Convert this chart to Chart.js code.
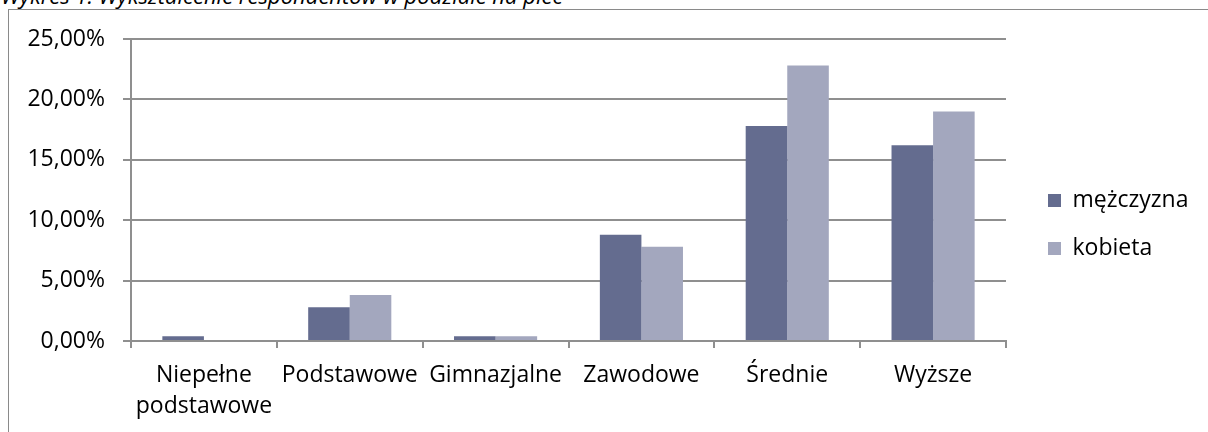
<!DOCTYPE html>
<html><head><meta charset="utf-8">
<script src="https://cdn.jsdelivr.net/npm/chart.js@4.4.1/dist/chart.umd.min.js"></script>
<style>
html,body{margin:0;padding:0;background:#fff;overflow:hidden;width:1208px;height:432px;position:relative;}
#frame{position:absolute;left:8px;top:9px;width:1400px;height:600px;border:1px solid #8a8a8a;box-sizing:border-box;}
#title{position:absolute;left:1px;top:-16px;font:italic 22px 'Open Sans';line-height:22px;white-space:nowrap;color:#000;}
canvas{position:absolute;left:0;top:0;}
</style></head><body>
<div id="title">Wykres 1. Wykształcenie respondentów w podziale na płeć</div>
<div id="frame"></div>
<canvas id="c" width="1208" height="432"></canvas>
<script>
const categories = [['Niepełne', 'podstawowe'], 'Podstawowe', 'Gimnazjalne', 'Zawodowe', 'Średnie', 'Wyższe'];
const seriesNames = ['mężczyzna', 'kobieta'];
const menValues = [0.4, 2.8, 0.4, 8.8, 17.8, 16.2];
const womenValues = [0, 3.8, 0.4, 7.8, 22.8, 19.0];
const yTickLabels = ['0,00%', '5,00%', '10,00%', '15,00%', '20,00%', '25,00%'];

const FONT = 'Open Sans';
const FS = 23;
const GRID = '#8f8f8f';

const legendShift = {
  id: 'legendShift',
  afterInit(chart) {
    const lg = chart.legend;
    const orig = lg.fit.bind(lg);
    lg.fit = function () { orig(); this.width = 202; };
  },
  afterLayout(chart) {
    const lg = chart.legend;
    lg.left += 17; lg.right += 17;
    lg.top -= 11; lg.bottom -= 11;
  }
};

Chart.defaults.font.family = FONT;
Chart.defaults.font.size = FS;
Chart.defaults.color = '#000';

new Chart(document.getElementById('c'), {
  type: 'bar',
  data: {
    labels: categories,
    datasets: [
      { label: seriesNames[0], data: menValues, backgroundColor: '#646c8f', borderWidth: 0 },
      { label: seriesNames[1], data: womenValues, backgroundColor: '#a3a7be', borderWidth: 0 }
    ]
  },
  options: {
    responsive: false,
    animation: false,
    devicePixelRatio: 1,
    layout: { padding: { left: 0, top: 39, right: 0, bottom: 0 } },
    datasets: { bar: { categoryPercentage: 0.57, barPercentage: 1.0 } },
    plugins: {
      legend: {
        position: 'right',
        labels: { boxWidth: 13, boxHeight: 13, padding: 25, color: '#000', font: { size: FS } }
      },
      tooltip: { enabled: false }
    },
    scales: {
      x: {
        grid: { display: true, drawOnChartArea: false, drawTicks: true, tickLength: 7, offset: true, color: GRID, lineWidth: 2 },
        border: { display: true, color: GRID, width: 2 },
        ticks: { color: '#000', padding: 12, maxRotation: 0, autoSkip: false, font: { size: FS, lineHeight: 1.35 } },
        afterFit(s) { s.height = 91; }
      },
      y: {
        min: 0, max: 25,
        ticks: { stepSize: 5, color: '#000', padding: 18, font: { size: FS }, callback: (v, i) => yTickLabels[i] },
        grid: { color: GRID, lineWidth: 2, tickLength: 8, drawTicks: true },
        border: { display: true, color: GRID, width: 2 },
        afterFit(s) { s.width = 131; }
      }
    }
  },
  plugins: [legendShift]
});
</script>
</body></html>
